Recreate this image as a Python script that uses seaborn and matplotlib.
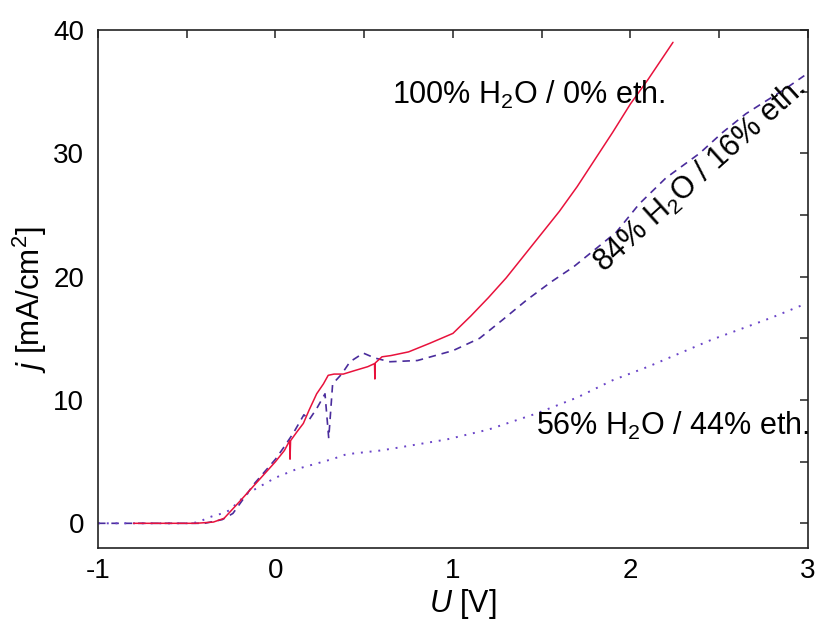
import pandas as pd
import matplotlib.pyplot as plt
import seaborn as sns

# 100% H2O / 0% eth. (solid red)
u_100 = [-0.8, -0.6, -0.45, -0.35, -0.29, -0.2, -0.1, 0.0, 0.05, 0.08, 0.082, 0.085, 0.12,
         0.157, 0.19, 0.232, 0.27, 0.297, 0.33, 0.382, 0.45, 0.52, 0.558, 0.56, 0.562, 0.6,
         0.65, 0.75, 0.87, 1.0, 1.1, 1.2, 1.3, 1.4, 1.5, 1.6, 1.7, 1.8, 1.9, 2.0, 2.1, 2.24]
j_100 = [0, 0, 0, 0.1, 0.4, 1.8, 3.4, 5.0, 5.9, 6.7, 5.2, 6.7, 7.4,
         8.1, 9.2, 10.5, 11.3, 12.0, 12.1, 12.1, 12.4, 12.7, 12.95, 11.7, 13.0, 13.5,
         13.6, 13.9, 14.6, 15.4, 16.8, 18.3, 19.9, 21.7, 23.5, 25.3, 27.3, 29.5, 31.7, 34.0, 36.0, 39.0]

# 84% H2O / 16% eth. (dashed)
u_84 = [-1.0, -0.6, -0.4, -0.3, -0.24, -0.12, 0.0, 0.044, 0.1, 0.16, 0.19, 0.232, 0.279,
        0.30, 0.322, 0.373, 0.42, 0.495, 0.56, 0.645, 0.8, 1.0, 1.15, 1.28, 1.415, 1.556,
        1.68, 1.8, 1.92, 2.05, 2.2, 2.39, 2.52, 2.65, 2.77, 2.87, 2.98]
j_84 = [0, 0, 0, 0.3, 0.8, 3.2, 5.2, 6.1, 7.3, 8.8, 8.4, 9.3, 10.5,
        6.9, 11.3, 12.1, 13.1, 13.8, 13.4, 13.1, 13.2, 14.0, 15.0, 16.5, 18.1, 19.6,
        20.8, 22.2, 23.6, 25.9, 28.0, 30.0, 31.7, 33.2, 34.3, 35.2, 36.3]

# 56% H2O / 44% eth. (dotted)
u_56 = [-1.0, -0.7, -0.48, -0.43, -0.39, -0.35, -0.30, -0.26, -0.16, 0.0, 0.12, 0.27, 0.33,
        0.40, 0.59, 0.66, 0.8, 0.965, 1.2, 1.47, 1.7, 1.90, 2.1, 2.28, 2.46, 2.65, 2.8, 2.97]
j_56 = [0, 0, 0, 0.1, 0.4, 0.6, 0.8, 1.05, 2.4, 3.7, 4.4, 5.0, 5.25,
        5.6, 5.9, 6.06, 6.4, 6.8, 7.6, 8.9, 10.2, 11.6, 12.7, 13.8, 14.9, 15.9, 16.7, 17.7]

sns.set_style("white")
plt.rcParams['font.family'] = ['Liberation Sans', 'DejaVu Sans']
plt.rcParams['mathtext.fontset'] = 'custom'
plt.rcParams['mathtext.rm'] = 'Liberation Sans'
plt.rcParams['mathtext.it'] = 'Liberation Sans:italic'
plt.rcParams['text.color'] = 'black'
plt.rcParams['axes.labelcolor'] = 'black'
plt.rcParams['xtick.color'] = 'black'
plt.rcParams['ytick.color'] = 'black'

fig = plt.figure(figsize=(8.21, 6.3), dpi=100)
ax = fig.add_axes([0.1194, 0.1302, 0.8646, 0.8222])

sns.lineplot(x=u_84, y=j_84, ax=ax, color='#4a2c9c', lw=1.2, estimator=None, sort=False,
             linestyle=(0, (4.5, 3.5)))
sns.lineplot(x=u_56, y=j_56, ax=ax, color='#6a44c8', lw=1.4, estimator=None, sort=False,
             linestyle=(0, (1, 3.5)))
sns.lineplot(x=u_100, y=j_100, ax=ax, color='#e8123c', lw=1.1, estimator=None, sort=False)

ax.set_xlim(-1, 3)
ax.set_ylim(-2, 40)
ax.set_xticks([-1, 0, 1, 2, 3])
ax.set_xticks([-0.5, 0.5, 1.5, 2.5], minor=True)
ax.set_yticks([0, 10, 20, 30, 40])
ax.set_yticks([5, 15, 25, 35], minor=True)
ax.set_xticklabels(['-1', '0', '1', '2', '3'])
ax.tick_params(which='both', direction='in', top=True, right=True, length=6, width=1.1,
               color='#222222', labelsize=20)
ax.tick_params(axis='y', pad=10)
ax.tick_params(axis='x', pad=7)
for s in ax.spines.values():
    s.set_color('#222222')
    s.set_linewidth(1.2)

ax.set_xlabel(r'$U$ [V]', fontsize=22, va='top')
ax.xaxis.set_label_coords(0.514, -0.075)
ax.set_ylabel(r'$j$ [mA/cm$^2$]', fontsize=22.5)
ax.yaxis.set_label_coords(-0.069, 0.479)

ax.text(0.655, 34.7, r'100% H$_2$O / 0% eth.', fontsize=22, ha='left', va='center')
ax.text(2.39, 28.2, r'84% H$_2$O / 16% eth.', fontsize=22, ha='center', va='center',
        rotation=42, rotation_mode='anchor')
ax.text(1.47, 7.9, r'56% H$_2$O / 44% eth.', fontsize=22, ha='left', va='center')

fig.savefig('out.png', dpi=100)
